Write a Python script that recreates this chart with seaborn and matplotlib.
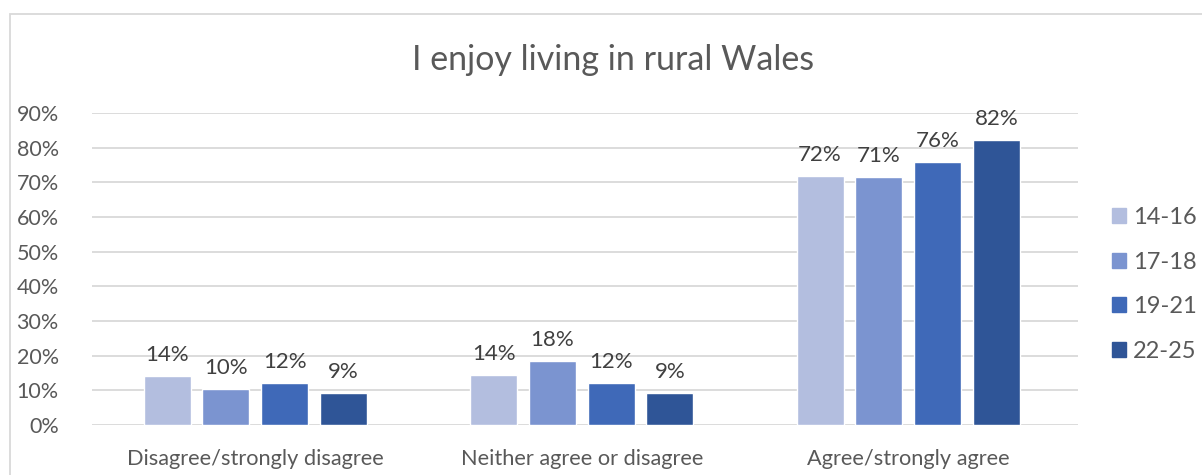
import matplotlib.pyplot as plt
import matplotlib.patches as mpatches
import pandas as pd
import seaborn as sns

# Chart data
categories = ['Disagree/strongly disagree', 'Neither agree or disagree', 'Agree/strongly agree']
age_groups = ['14-16', '17-18', '19-21', '22-25']
values = {
    '14-16': [14.1, 14.3, 71.9],
    '17-18': [10.3, 18.4, 71.4],
    '19-21': [12.0, 12.0, 75.9],
    '22-25': [9.2, 9.1, 82.1],
}
colors = ['#B3BEDF', '#7B94D0', '#3F69B8', '#2F5597']

rows = []
for g in age_groups:
    for c, v in zip(categories, values[g]):
        rows.append({'category': c, 'age': g, 'value': v / 100})
df = pd.DataFrame(rows)

sns.set_style('white')
plt.rcParams['font.family'] = ['Lato', 'DejaVu Sans']

fig = plt.figure(figsize=(12.02, 4.75), dpi=100)
ax = fig.add_axes([92 / 1202, 1 - 425 / 475, (1078 - 92) / 1202, (425 - 113) / 475])

sns.barplot(data=df, x='category', y='value', hue='age', hue_order=age_groups,
            order=categories, palette=colors, width=0.72, gap=0.2,
            saturation=1, ax=ax, legend=False)

# data labels
for cont in ax.containers:
    ax.bar_label(cont, labels=[f'{round(b.get_height() * 100):.0f}%' for b in cont],
                 padding=8, fontsize=16, color='#404040')

ax.set_ylim(0, 0.9)
ax.set_yticks([i / 10 for i in range(10)])
ax.set_yticklabels([f'{i * 10}%' for i in range(10)])
ax.set_xlim(-0.5, 2.52)
ax.yaxis.grid(True, color='#D9D9D9', linewidth=1.3)
ax.set_axisbelow(True)
for s in ax.spines.values():
    s.set_visible(False)
ax.tick_params(axis='y', labelsize=15.5, colors='#595959', length=0, pad=24)
ax.tick_params(axis='x', labelsize=15.7, colors='#595959', length=0, pad=17)
ax.set_xlabel('')
ax.set_ylabel('')

fig.text(613 / 1202, 1 - 60 / 475, 'I enjoy living in rural Wales', ha='center', va='center',
         fontsize=24.5, color='#595959')

handles = [mpatches.Patch(color=c, label=g) for c, g in zip(colors, age_groups)]
fig.legend(handles=handles, loc='center left', bbox_to_anchor=(1112 / 1202, 1 - 284.5 / 475),
           frameon=False, fontsize=17, labelcolor='#595959', handlelength=0.6,
           handleheight=0.6, handletextpad=0.3, labelspacing=1.0,
           borderpad=0, borderaxespad=0)

# chart border
fig.patches.append(mpatches.Rectangle((10 / 1202, -0.1), 1.2, 1 - 14 / 475 + 0.1,
                                      transform=fig.transFigure, fill=False,
                                      edgecolor='#D9D9D9', linewidth=1.3))

fig.savefig('out.png', dpi=100)
